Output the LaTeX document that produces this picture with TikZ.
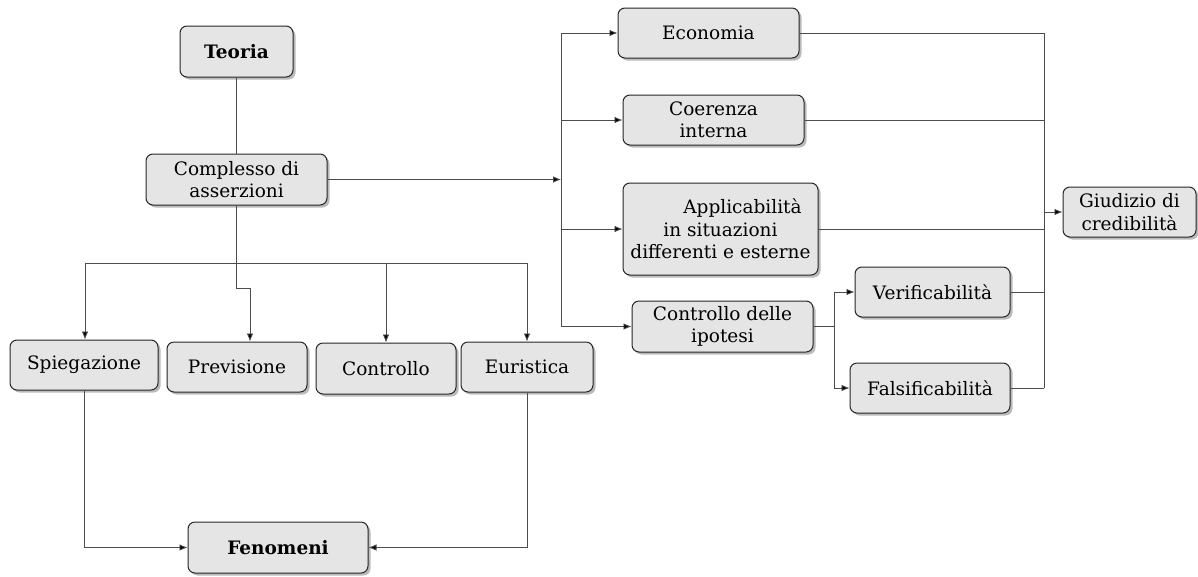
\documentclass[tikz,border=0pt]{standalone}
\usepackage{fontspec}
\setmainfont{DejaVu Serif}
\usetikzlibrary{arrows.meta,shadows}
\begin{document}
\begin{tikzpicture}[x=1pt,y=-1pt,
  box/.style={draw=black!85, line width=1pt, rounded corners=7pt, fill=black!10,
    drop shadow={shadow xshift=2.5pt, shadow yshift=-2.5pt, fill=black!60, opacity=0.45},
    align=center, inner sep=1pt, font=\fontsize{18.5}{22.5}\selectfont},
  conn/.style={draw=black!70, line width=0.8pt},
  arr/.style={conn, arrows={-{Latex[length=8pt,width=6.5pt,fill=black]}}}
]
\useasboundingbox (0,0) rectangle (1198,576);
% nodes
\node[box, minimum width=113pt, minimum height=51pt] (teoria) at (236.5,51.5) {\textbf{Teoria}};
\node[box, minimum width=181pt, minimum height=51pt] (compl) at (236.5,179.5) {Complesso di\\asserzioni};
\node[box, minimum width=181pt, minimum height=50pt] (econ) at (708.5,33) {Economia};
\node[box, minimum width=181pt, minimum height=50pt] (coer) at (713.5,120) {Coerenza\\interna};
\node[box, minimum width=195pt, minimum height=92pt] (appl) at (720.5,229) {\hspace*{44pt}Applicabilità\\in situazioni\\differenti e esterne};
\node[box, minimum width=181pt, minimum height=51pt] (cipo) at (722.5,326.5) {Controllo delle\\ipotesi};
\node[box, minimum width=155pt, minimum height=50pt] (verif) at (932.5,292) {Verificabilità};
\node[box, minimum width=160pt, minimum height=50pt] (falsi) at (930,388) {Falsificabilità};
\node[box, minimum width=133pt, minimum height=50pt] (giud) at (1129.5,212) {Giudizio di\\credibilità};
\node[box, minimum width=148pt, minimum height=50pt] (spieg) at (84,365) {Spiegazione};
\node[box, minimum width=140pt, minimum height=50pt] (prev) at (237,367) {Previsione};
\node[box, minimum width=140pt, minimum height=51pt] (contr) at (386,368.5) {Controllo};
\node[box, minimum width=132pt, minimum height=50pt] (eur) at (527,367) {Euristica};
\node[box, minimum width=180pt, minimum height=51pt] (fen) at (278,547.5) {\textbf{Fenomeni}};
% coordinates
\coordinate (busL) at (561,179.5);
\coordinate (cb) at (834,326.5);
\coordinate (busR) at (1044,212);
\coordinate (busB) at (236.5,263);
\coordinate (busBl) at (85,263);
\coordinate (busBr) at (527,263);
\coordinate (jog) at (236.5,288);
\coordinate (jog2) at (250,288);
% connectors
\draw[conn] (teoria) -- (compl);
\draw[arr] (compl.east) -- (busL);
\draw[conn] (busL |- econ.west) -- (busL |- cipo.west);
\draw[arr] (busL |- econ.west) -- (econ.west);
\draw[arr] (busL |- coer.west) -- (coer.west);
\draw[arr] (busL |- appl.west) -- (appl.west);
\draw[arr] (busL |- cipo.west) -- (cipo.west);
\draw[conn] (cipo.east) -- (cb);
\draw[arr] (cb) |- (verif.west);
\draw[arr] (cb) |- (falsi.west);
\draw[conn] (econ.east) -- (busR |- econ.east);
\draw[conn] (coer.east) -- (busR |- coer.east);
\draw[conn] (appl.east) -- (busR |- appl.east);
\draw[conn] (verif.east) -- (busR |- verif.east);
\draw[conn] (falsi.east) -- (busR |- falsi.east);
\draw[conn] (busR |- econ.east) -- (busR |- falsi.east);
\draw[arr] (busR) -- (giud.west);
% bottom
\draw[conn] (compl.south) -- (jog) -- (jog2);
\draw[arr] (jog2) -- (jog2 |- prev.north);
\draw[conn] (busBl) -- (busBr);
\draw[arr] (busBl) -- (busBl |- spieg.north);
\draw[arr] (contr.north |- busB) -- (contr.north);
\draw[arr] (busBr) -- (busBr |- eur.north);
\draw[arr] (spieg.south) |- (fen.west);
\draw[arr] (eur.south) |- (fen.east);
\end{tikzpicture}
\end{document}
